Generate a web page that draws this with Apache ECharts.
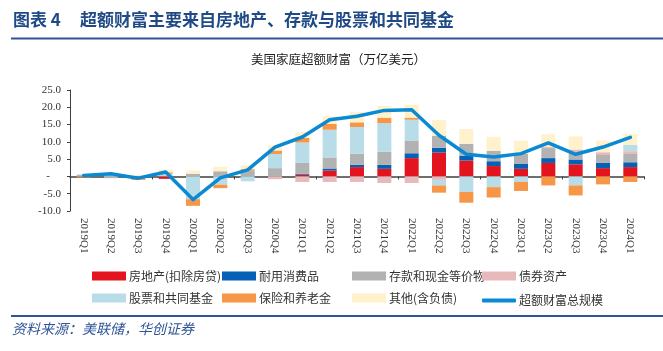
<!DOCTYPE html>
<html>
<head>
<meta charset="utf-8">
<script src="https://cdn.jsdelivr.net/npm/echarts@6/dist/echarts.min.js"></script>
<style>
  html, body { margin: 0; padding: 0; background: #fff; }
  #chart { width: 663px; height: 351px; }
</style>
</head>
<body>
<div id="chart"></div>
<script>
// quarters
const categories = [
  '2019Q1', '2019Q2', '2019Q3', '2019Q4',
  '2020Q1', '2020Q2', '2020Q3', '2020Q4',
  '2021Q1', '2021Q2', '2021Q3', '2021Q4',
  '2022Q1', '2022Q2', '2022Q3', '2022Q4',
  '2023Q1', '2023Q2', '2023Q3', '2023Q4',
  '2024Q1'
];

// 万亿美元
const realEstate = [0, 0, 0, -0.7, 0, 0, 0, 0, 0.5, 1.7, 2.7, 2.2, 5.3, 6.9, 4.6, 3.0, 2.2, 3.9, 3.5, 2.4, 2.7];
const durables   = [0, 0, 0, 0, 0, 0, 0, 0, 0.3, 0.6, 0.7, 1.2, 1.4, 1.4, 1.4, 1.4, 1.4, 1.4, 1.4, 1.5, 1.4];
const deposits   = [0.4, -0.5, 0.2, 0.3, 0.8, 1.5, 1.8, 2.4, 3.1, 3.2, 3.2, 3.7, 3.7, 3.5, 3.4, 3.0, 2.9, 2.9, 2.1, 2.3, 2.4];
const bonds      = [0, 0, 0, 0, 0, 0, 0, -0.8, -1.6, -1.6, -1.6, -1.9, -1.9, -1.0, 0, 0, 0, 0.3, 0.8, 0.8, 0.8];
const equities   = [0.2, 0.8, 0, 0.5, -6.6, -2.4, -1.4, 4.1, 5.9, 8.0, 7.7, 8.3, 6.0, -1.6, -4.5, -3.1, -1.6, 0, -2.6, 0, 1.8];
const pensions   = [-0.3, 0, -1.0, 0.4, -1.9, -1.0, 0.3, 1.0, 1.35, 1.7, 1.35, 1.6, 0.6, -2.1, -3.1, -3.0, -2.6, -2.6, -2.9, -2.3, -1.6];
const other      = [0, 0.4, 0.3, 0.8, 0.9, 1.3, 1.1, 1.5, 1.7, 2.2, 3.0, 3.4, 3.75, 4.5, 4.3, 4.05, 3.85, 3.7, 3.75, 3.4, 3.2];
const total      = [0.3, 0.8, -0.5, 1.3, -6.7, -0.4, 1.9, 8.5, 11.4, 16.4, 17.4, 19.1, 19.3, 11.9, 6.4, 5.6, 6.6, 9.7, 6.4, 8.5, 11.3];

const yTicks = { min: -10, max: 25, interval: 5 };

const barSeries = [
  { name: '房地产(扣除房贷)', data: realEstate, color: '#e3141d' },
  { name: '耐用消费品', data: durables, color: '#0461b6' },
  { name: '存款和现金等价物', data: deposits, color: '#b2b2b2' },
  { name: '债券资产', data: bonds, color: '#e7b9bb' },
  { name: '股票和共同基金', data: equities, color: '#b8dde8' },
  { name: '保险和养老金', data: pensions, color: '#f79646' },
  { name: '其他(含负债)', data: other, color: '#fff1cb' }
];
const lineName = '超额财富总规模';
const lineColor = '#0b8ad4';

const cjk = "'Noto Sans CJK SC', 'Noto Sans', sans-serif";
const serif = "'Liberation Serif', 'DejaVu Serif', serif";

// legend: one small legend per entry so the columns line up
const legendCols = [87, 217, 347, 477];
const legendRows = [265, 287];
const legendNames = barSeries.map(s => s.name).concat([lineName]);
const legends = legendNames.map((name, i) => {
  const isLine = name === lineName;
  return {
    data: [name],
    left: legendCols[i % 4],
    top: legendRows[Math.floor(i / 4)] + (isLine ? 2.5 : 0),
    icon: isLine ? 'roundRect' : 'rect',
    itemWidth: 34,
    itemHeight: isLine ? 4 : 9,
    itemGap: 0,
    selectedMode: false,
    textStyle: { fontFamily: cjk, fontSize: 12, color: '#333', padding: [0, 0, 0, -2] }
  };
});

const chart = echarts.init(document.getElementById('chart'));
chart.setOption({
  animation: false,
  graphic: [
    {
      type: 'text', left: 13, top: 11,
      style: { text: '图表 4', fontFamily: cjk, fontSize: 17, fontWeight: 'bold', fill: '#1f4a86' }
    },
    {
      type: 'text', left: 80, top: 11,
      style: { text: '超额财富主要来自房地产、存款与股票和共同基金', fontFamily: cjk, fontSize: 17, fontWeight: 'bold', fill: '#1f4a86' }
    },
    {
      type: 'line', shape: { x1: 11, y1: 38.5, x2: 663, y2: 38.5 },
      style: { stroke: '#2f5597', lineWidth: 2 }
    },
    {
      type: 'text', left: 251, top: 53,
      style: { text: '美国家庭超额财富（万亿美元）', fontFamily: cjk, fontSize: 12.5, fill: '#222' }
    },
    {
      type: 'line', shape: { x1: 11, y1: 316, x2: 663, y2: 316 },
      style: { stroke: '#2f5597', lineWidth: 2 }
    },
    {
      type: 'text', left: 12, top: 322,
      style: { text: '资料来源：美联储，华创证券', fontFamily: cjk, fontSize: 14, fontStyle: 'italic', fill: '#2f5597' }
    }
  ],
  legend: legends,
  grid: { left: 70, right: 19, top: 90, bottom: 140 },
  xAxis: [
    {
      type: 'category',
      data: categories,
      axisLine: { onZero: true, lineStyle: { color: '#404040', width: 1.5 } },
      axisTick: { show: true, length: 3, lineStyle: { color: '#404040' } },
      axisLabel: { show: false },
      splitLine: { show: false }
    },
    {
      type: 'category',
      data: categories,
      position: 'bottom',
      axisLine: { show: false, onZero: false },
      axisTick: { show: false },
      axisLabel: { rotate: -90, margin: 7, fontFamily: serif, fontSize: 11, color: '#333' },
      splitLine: { show: false }
    }
  ],
  yAxis: {
    type: 'value',
    min: yTicks.min,
    max: yTicks.max,
    interval: yTicks.interval,
    axisLine: { show: true, lineStyle: { color: '#404040', width: 1 } },
    axisTick: { show: true, length: 3, lineStyle: { color: '#404040' } },
    axisLabel: {
      fontFamily: serif, fontSize: 11, color: '#333', margin: 9,
      formatter: v => (v === 0 ? '-    ' : v.toFixed(1))
    },
    splitLine: { show: false }
  },
  series: barSeries.map(s => ({
    name: s.name,
    type: 'bar',
    stack: 'wealth',
    barWidth: 14,
    xAxisIndex: 0,
    itemStyle: { color: s.color },
    data: s.data
  })).concat([{
    name: lineName,
    type: 'line',
    xAxisIndex: 0,
    data: total,
    symbol: 'none',
    z: 10,
    lineStyle: { color: lineColor, width: 3.5, join: 'round', cap: 'round' },
    itemStyle: { color: lineColor }
  }])
});
</script>
</body>
</html>
